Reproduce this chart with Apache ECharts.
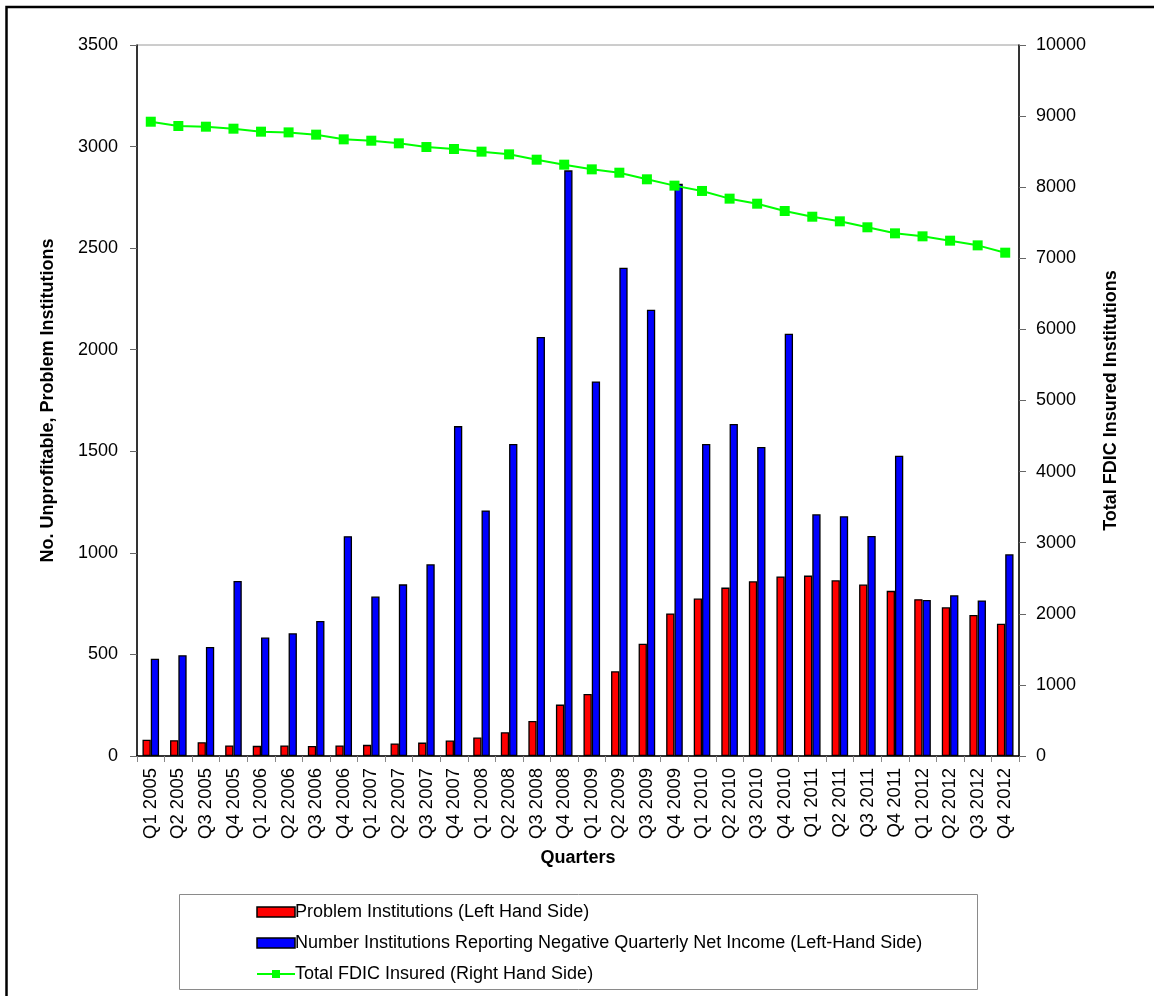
<!DOCTYPE html>
<html>
<head>
<meta charset="utf-8">
<script src="https://cdn.jsdelivr.net/npm/echarts@6/dist/echarts.min.js"></script>
<style>
  html, body { margin: 0; padding: 0; background: #fff; }
  #chart { width: 1154px; height: 996px; }
</style>
</head>
<body>
<div id="chart"></div>
<script>
// Quarterly FDIC figures, 2005-2012
const quarters = [
  'Q1 2005','Q2 2005','Q3 2005','Q4 2005',
  'Q1 2006','Q2 2006','Q3 2006','Q4 2006',
  'Q1 2007','Q2 2007','Q3 2007','Q4 2007',
  'Q1 2008','Q2 2008','Q3 2008','Q4 2008',
  'Q1 2009','Q2 2009','Q3 2009','Q4 2009',
  'Q1 2010','Q2 2010','Q3 2010','Q4 2010',
  'Q1 2011','Q2 2011','Q3 2011','Q4 2011',
  'Q1 2012','Q2 2012','Q3 2012','Q4 2012'
];

const problemInstitutions = [
  80, 78, 68, 52,
  50, 52, 49, 52,
  55, 62, 66, 76,
  91, 117, 172, 253,
  305, 417, 553, 702,
  775, 829, 860, 884,
  888, 865, 844, 813,
  772, 732, 694, 651
];

const negativeIncome = [
  479, 496, 537, 862,
  583, 604, 665, 1082,
  785, 845, 944, 1624,
  1209, 1536, 2063, 2883,
  1844, 2404, 2197, 2817,
  1536, 1634, 1521, 2079,
  1190, 1180, 1083, 1478,
  768, 791, 766, 993
];

const totalInsured = [
  8921, 8861, 8851, 8823,
  8781, 8771, 8739, 8673,
  8654, 8617, 8565, 8537,
  8500, 8462, 8387, 8317,
  8251, 8204, 8111, 8022,
  7947, 7839, 7768, 7665,
  7585, 7520, 7436, 7351,
  7309, 7248, 7182, 7079
];

const seriesNames = [
  'Problem Institutions (Left Hand Side)',
  'Number Institutions Reporting Negative Quarterly Net Income (Left-Hand Side)',
  'Total FDIC Insured (Right Hand Side)'
];

const FONT = '"Liberation Sans", Arial, sans-serif';
const plainNumber = v => String(v);

const chart = echarts.init(document.getElementById('chart'), null, { renderer: 'canvas' });

chart.setOption({
  backgroundColor: '#ffffff',
  animation: false,
  textStyle: { fontFamily: FONT },
  graphic: [
    // outer frame
    {
      type: 'rect', z: 0, silent: true,
      shape: { x: 6.5, y: 7, width: 1300, height: 1200 },
      style: { fill: 'none', stroke: '#000', lineWidth: 2.5 }
    },
    // legend box
    {
      type: 'rect', z: 0, silent: true,
      shape: { x: 179.5, y: 894.5, width: 798, height: 95 },
      style: { fill: '#fff', stroke: '#8a8a8a', lineWidth: 1 }
    }
  ],
  grid: {
    left: 137, top: 45, right: 135, bottom: 240,
    show: true, borderColor: '#9a9a9a', borderWidth: 1,
    containLabel: false
  },
  legend: {
    orient: 'vertical',
    left: 251, top: 898,
    itemWidth: 38, itemHeight: 10,
    itemGap: 13,
    textStyle: { fontFamily: FONT, fontSize: 18, color: '#000', padding: [0, 0, 0, -5] },
    data: [
      { name: seriesNames[0], icon: 'rect', itemStyle: { color: '#ff0000', borderColor: '#000', borderWidth: 1.5 } },
      { name: seriesNames[1], icon: 'rect', itemStyle: { color: '#0000ff', borderColor: '#000', borderWidth: 1.5 } },
      { name: seriesNames[2] }
    ]
  },
  xAxis: {
    type: 'category',
    data: quarters,
    boundaryGap: true,
    name: 'Quarters',
    nameLocation: 'middle',
    nameGap: 93,
    nameTextStyle: { fontFamily: FONT, fontSize: 18, fontWeight: 'bold', color: '#000' },
    axisLine: { show: true, lineStyle: { color: '#000', width: 1.5 } },
    axisTick: { show: true, inside: false, length: 6, lineStyle: { color: '#888' } },
    axisLabel: {
      interval: 0, rotate: 90, margin: 12,
      fontFamily: FONT, fontSize: 18.5, color: '#000'
    },
    splitLine: { show: false }
  },
  yAxis: [
    {
      type: 'value',
      min: 0, max: 3500, interval: 500,
      position: 'left',
      name: 'No. Unprofitable, Problem Institutions',
      nameLocation: 'middle',
      nameGap: 80,
      nameRotate: 90,
      nameTextStyle: { fontFamily: FONT, fontSize: 18, fontWeight: 'bold', color: '#000' },
      axisLine: { show: true, lineStyle: { color: '#000', width: 1.5 } },
      axisTick: { show: true, inside: false, length: 7, lineStyle: { color: '#666' } },
      axisLabel: { margin: 19, fontFamily: FONT, fontSize: 18, color: '#000', formatter: plainNumber },
      splitLine: { show: false }
    },
    {
      type: 'value',
      min: 0, max: 10000, interval: 1000,
      position: 'right',
      name: 'Total FDIC Insured Institutions',
      nameLocation: 'middle',
      nameGap: 83,
      nameRotate: 90,
      nameTextStyle: { fontFamily: FONT, fontSize: 18, fontWeight: 'bold', color: '#000' },
      axisLine: { show: true, lineStyle: { color: '#000', width: 1.5 } },
      axisTick: { show: true, inside: false, length: 7, lineStyle: { color: '#666' } },
      axisLabel: { margin: 17, fontFamily: FONT, fontSize: 18, color: '#000', formatter: plainNumber },
      splitLine: { show: false }
    }
  ],
  series: [
    {
      name: seriesNames[0],
      type: 'bar',
      yAxisIndex: 0,
      data: problemInstitutions,
      barWidth: 8.3,
      barGap: '0%',
      itemStyle: { color: '#ff0000', borderColor: '#000', borderWidth: 1.3 }
    },
    {
      name: seriesNames[1],
      type: 'bar',
      yAxisIndex: 0,
      data: negativeIncome,
      barWidth: 8.3,
      barGap: '0%',
      itemStyle: { color: '#0000ff', borderColor: '#000', borderWidth: 1.3 }
    },
    {
      name: seriesNames[2],
      type: 'line',
      yAxisIndex: 1,
      data: totalInsured,
      z: 5,
      symbol: 'rect',
      symbolSize: 10,
      showSymbol: true,
      lineStyle: { color: '#00ff00', width: 2 },
      itemStyle: { color: '#00ff00', borderWidth: 0 }
    }
  ]
});
</script>
</body>
</html>
